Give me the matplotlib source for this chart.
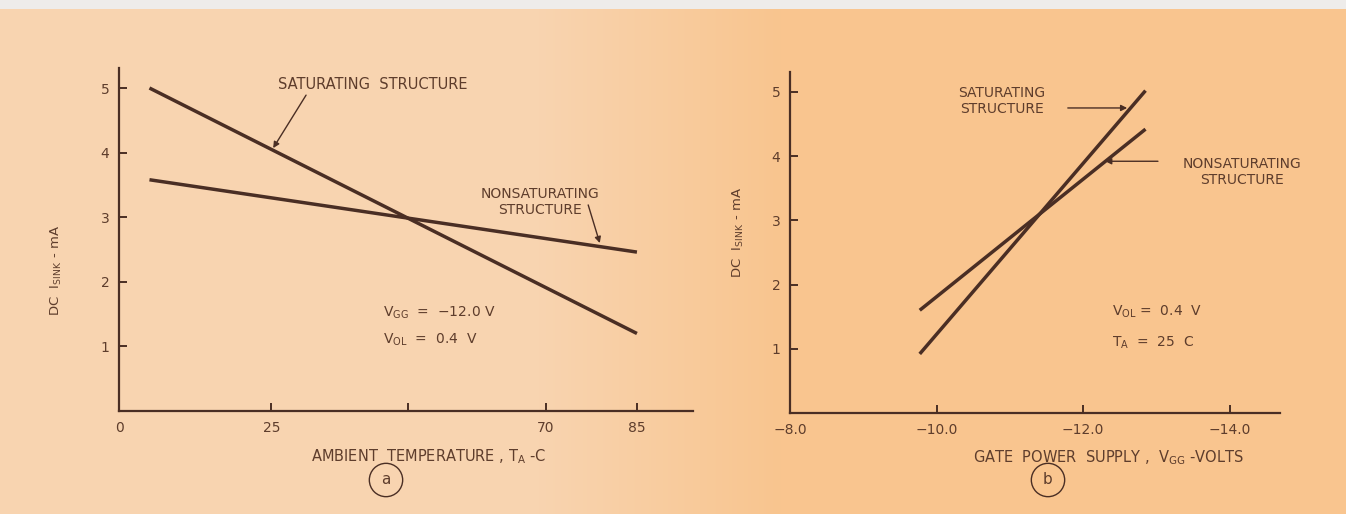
import numpy as np
import matplotlib
matplotlib.use("Agg")
import matplotlib.pyplot as plt

# Panel (a): sink current vs ambient temperature
temp_a = [5, 85]
sat_a = [5.0, 1.2]
nonsat_a = [3.58, 2.46]
xticks_a = [0, 25, 47.5, 70, 85]
xticklabels_a = ["0", "25", "", "70", "85"]

# Panel (b): sink current vs gate supply voltage
vgg_b = [-9.77, -12.85]
sat_b = [0.92, 5.02]
nonsat_b = [1.60, 4.42]
xticks_b = [-8, -10, -12, -14]
xticklabels_b = ["\u22128.0", "\u221210.0", "\u221212.0", "\u221214.0"]

yticks = [1, 2, 3, 4, 5]

ink = "#4a2e24"
txt = "#5e3d2c"

fig = plt.figure(figsize=(13.46, 5.14), dpi=100)

# paper background: pale peach on the left, more orange on the right
bg = fig.add_axes([0, 0, 1, 1], zorder=-10)
w, h = 1346, 514
xs = np.linspace(0, 1, w)
t = np.clip((xs - 0.40) / 0.18, 0, 1)
left_c = np.array([248, 212, 176]) / 255
right_c = np.array([249, 197, 143]) / 255
row = left_c[None, :] * (1 - t[:, None]) + right_c[None, :] * t[:, None]
img = np.repeat(row[None, :, :], h, axis=0)
img[:9, :, :] = np.array([238, 236, 234]) / 255
bg.imshow(img, aspect="auto", extent=[0, 1, 0, 1])
bg.axis("off")


def style(ax):
    ax.set_facecolor("none")
    for s in ["top", "right"]:
        ax.spines[s].set_visible(False)
    for s in ["left", "bottom"]:
        ax.spines[s].set_color(ink)
        ax.spines[s].set_linewidth(1.6)
    ax.tick_params(direction="in", length=6, width=1.4, color=ink,
                   labelcolor=txt, labelsize=10, pad=7)
    ax.set_yticks(yticks)
    ax.set_yticklabels([str(v) for v in yticks])
    ax.set_ylim(0, 5.31)


arrow = dict(arrowstyle="-|>", color=ink, lw=1.0, mutation_scale=9,
             shrinkA=0, shrinkB=0)

# ---- panel (a)
ax1 = fig.add_axes([119 / w, (h - 411) / h, 574 / w, 343 / h])
style(ax1)
ax1.set_xlim(0, 94.2)
ax1.set_xticks(xticks_a)
ax1.set_xticklabels(xticklabels_a)
ax1.plot(temp_a, sat_a, color=ink, lw=2.5, solid_capstyle="butt")
ax1.plot(temp_a, nonsat_a, color=ink, lw=2.5, solid_capstyle="butt")
ax1.set_xlabel(r"AMBIENT  TEMPERATURE , T$_\mathrm{A}$ -C", color=txt, fontsize=10.5)
ax1.xaxis.set_label_coords(0.54, -0.105)
ax1.set_ylabel(r"DC  I$_\mathrm{SINK}$ - mA", color=txt, fontsize=9.5)
ax1.yaxis.set_label_coords(-0.095, 0.41)

ax1.text(26.1, 5.06, "SATURATING  STRUCTURE", color=txt, fontsize=10.5,
         ha="left", va="center")
ax1.annotate("", xy=(25.3, 4.07), xytext=(30.7, 4.89), arrowprops=arrow)
ax1.text(69.1, 3.24, "NONSATURATING\nSTRUCTURE", color=txt, fontsize=10,
         ha="center", va="center", linespacing=1.2)
ax1.annotate("", xy=(78.9, 2.60), xytext=(77.0, 3.19), arrowprops=arrow)
ax1.text(43.3, 1.52, r"V$_\mathrm{GG}$  =  $-$12.0 V", color=txt, fontsize=10,
         ha="left", va="center")
ax1.text(43.3, 1.10, r"V$_\mathrm{OL}$  =  0.4  V", color=txt, fontsize=10,
         ha="left", va="center")

# ---- panel (b)
ax2 = fig.add_axes([790 / w, (h - 413) / h, 490 / w, 341 / h])
style(ax2)
ax2.set_xlim(-8, -14.685)
ax2.set_xticks(xticks_b)
ax2.set_xticklabels(xticklabels_b)
ax2.plot(vgg_b, sat_b, color=ink, lw=2.5, solid_capstyle="butt")
ax2.plot(vgg_b, nonsat_b, color=ink, lw=2.5, solid_capstyle="butt")
ax2.set_xlabel(r"GATE  POWER  SUPPLY ,  V$_\mathrm{GG}$ -VOLTS", color=txt, fontsize=10.5)
ax2.xaxis.set_label_coords(0.649, -0.103)
ax2.set_ylabel(r"DC  I$_\mathrm{SINK}$ - mA", color=txt, fontsize=9.5)
ax2.yaxis.set_label_coords(-0.09, 0.53)

ax2.text(-10.89, 4.86, "SATURATING\nSTRUCTURE", color=txt, fontsize=10,
         ha="center", va="center", linespacing=1.2)
ax2.annotate("", xy=(-12.60, 4.75), xytext=(-11.79, 4.75), arrowprops=arrow)
ax2.text(-14.17, 3.75, "NONSATURATING\nSTRUCTURE", color=txt, fontsize=10,
         ha="center", va="center", linespacing=1.2)
ax2.annotate("", xy=(-12.30, 3.92), xytext=(-13.02, 3.92), arrowprops=arrow)
ax2.text(-12.39, 1.57, r"V$_\mathrm{OL}$ =  0.4  V", color=txt, fontsize=10,
         ha="left", va="center")
ax2.text(-12.39, 1.09, r"T$_\mathrm{A}$  =  25  C", color=txt, fontsize=10,
         ha="left", va="center")

# panel letters in circles
for x, lab in [(386, "a"), (1048, "b")]:
    fig.text(x / w, 1 - 480 / h, lab, color=txt, fontsize=11, ha="center",
             va="center",
             bbox=dict(boxstyle="circle,pad=0.6", fc="none", ec=ink, lw=1.0))

fig.savefig("out.png", dpi=100)
